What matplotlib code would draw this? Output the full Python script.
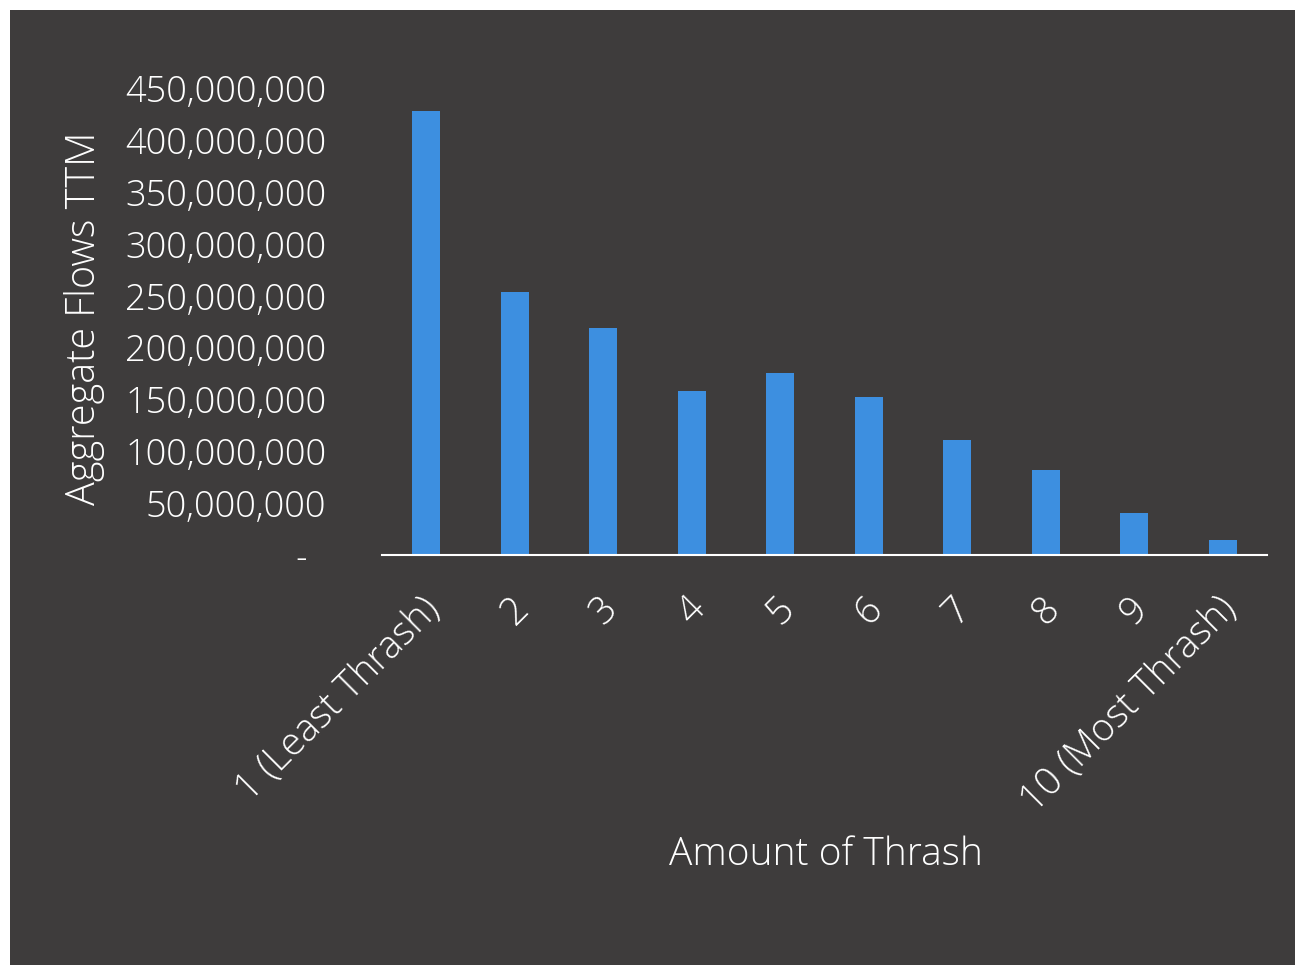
import matplotlib
matplotlib.use("Agg")
import matplotlib.pyplot as plt
from matplotlib.patches import Rectangle
from matplotlib.ticker import FuncFormatter
from matplotlib.transforms import ScaledTranslation
from matplotlib import font_manager

categories = ["1 (Least Thrash)", "2", "3", "4", "5", "6", "7", "8", "9", "10 (Most Thrash)"]
values = [428e6, 253e6, 219e6, 158e6, 175.5e6, 152.5e6, 111e6, 82e6, 40.5e6, 14.5e6]
yticks = [0, 50e6, 100e6, 150e6, 200e6, 250e6, 300e6, 350e6, 400e6, 450e6]

names = {f.name for f in font_manager.fontManager.ttflist}
family = "Open Sans" if "Open Sans" in names else "DejaVu Sans"
plt.rcParams["font.family"] = [family, "DejaVu Sans"]

W, H = 1304, 965
fig = plt.figure(figsize=(W / 100, H / 100), dpi=100, facecolor="white")
bg = "#3e3c3c"
fig.patches.append(Rectangle((10 / W, 0), (1295 - 10) / W, (965 - 10) / H,
                             transform=fig.transFigure, facecolor=bg, edgecolor="none", zorder=-5))

ax = fig.add_axes([382 / W, 1 - 555 / H, (1267 - 382) / W, (555 - 88) / H])
ax.set_facecolor("none")
ax.set_zorder(2)
x = list(range(len(categories)))
ax.bar(x, values, width=0.32, color="#3d8fe0", zorder=2)
ax.set_xlim(-0.5, len(categories) - 0.5)
ax.set_ylim(0, 450e6)
ax.set_yticks(yticks)
ax.yaxis.set_major_formatter(FuncFormatter(lambda v, p: "-  " if v == 0 else f"{int(v):,}"))
ax.set_xticks(x)
ax.set_xticklabels(categories, rotation=45, ha="right", va="center", rotation_mode="anchor")
for s in ["top", "right", "left"]:
    ax.spines[s].set_visible(False)
ax.spines["bottom"].set_color("white")
ax.spines["bottom"].set_linewidth(1.5)
ax.tick_params(axis="y", length=0, pad=40, labelsize=26, labelcolor="white")
ax.tick_params(axis="x", length=0, pad=35, labelsize=27.5, labelcolor="white")
shift = ScaledTranslation(8 / 100, 0, fig.dpi_scale_trans)
for lab in ax.get_xticklabels():
    lab.set_transform(lab.get_transform() + shift)
for lab in ax.get_xticklabels() + ax.get_yticklabels():
    lab.set_fontweight("light")

fig.text(85 / W, 1 - 318 / H, "Aggregate Flows TTM", rotation=90, ha="center", va="center",
         color="white", fontsize=28.5, fontweight="light")
fig.text(826 / W, 1 - 855 / H, "Amount of Thrash", ha="center", va="center",
         color="white", fontsize=28, fontweight="light")

fig.savefig("out.png", dpi=100, facecolor="white")
